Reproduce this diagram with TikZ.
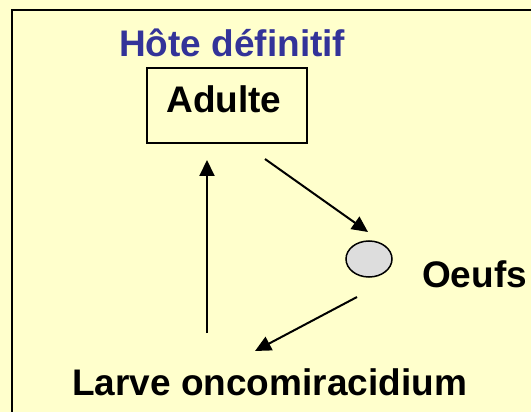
\documentclass[tikz,border=0pt]{standalone}
\usepackage{fontspec}
\setmainfont{Liberation Sans}
\usetikzlibrary{shapes.geometric,arrows.meta}
\definecolor{bg}{HTML}{FFFFCC}
\definecolor{titleblue}{HTML}{333399}
\definecolor{egg}{HTML}{DDDDDD}
\tikzset{
  lbl/.style={font=\bfseries\fontsize{37}{40}\selectfont, inner sep=0pt},
  flow/.style={line width=2pt, -{Triangle[length=16pt,width=15pt]}},
}
\begin{document}
\begin{tikzpicture}[x=1pt,y=-1pt]
\useasboundingbox (0,0) rectangle (531,412);
\fill[bg] (0,0) rectangle (531,412);
\begin{scope}
\clip (0,0) rectangle (531,412);
\draw[line width=2pt] (12,440) -- (12,10) -- (545,10);
\end{scope}
\node[lbl, text=titleblue, anchor=base west] (hote) at (119,57) {Hôte définitif};
\draw[line width=2pt] (147,68) rectangle (307,143);
\node[lbl, anchor=base] (adulte) at (224,113) {Adulte};
\node[ellipse, draw, line width=1.5pt, fill=egg, minimum width=46, minimum height=36, inner sep=0pt] (oeuf) at (369,259) {};
\node[lbl, anchor=base west] (oeufs) at (422,287) {Oeufs};
\node[lbl, anchor=base west] (larve) at (72,395) {Larve oncomiracidium};
\coordinate (a1s) at (265,159);
\coordinate (a1e) at (368,232);
\coordinate (a2s) at (357,297);
\coordinate (a2e) at (255,351);
\coordinate (a3s) at (207,333);
\coordinate (a3e) at (207,160);
\draw[flow] (a1s) -- (a1e);
\draw[flow] (a2s) -- (a2e);
\draw[flow] (a3s) -- (a3e);
\end{tikzpicture}
\end{document}
